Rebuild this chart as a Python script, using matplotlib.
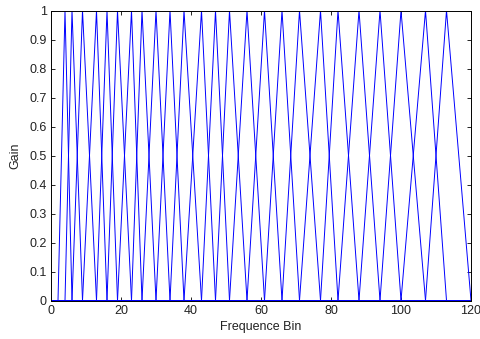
import numpy as np
import matplotlib
matplotlib.use("Agg")
import matplotlib.pyplot as plt

plt.rcParams['font.family'] = ['Liberation Sans', 'DejaVu Sans']

# triangle filter edge points (bin index): filter k rises at edges[k],
# peaks at edges[k+1] and falls back to zero at edges[k+2]
edges = [2, 4, 6, 9, 13, 16, 19, 23, 26, 30, 34, 38, 43, 47, 51, 56,
         61, 66, 71, 77, 82, 88, 94, 100, 107, 113, 120]
n_bins = 120
x_ticks = [0, 20, 40, 60, 80, 100, 120]
y_ticks = [0, 0.1, 0.2, 0.3, 0.4, 0.5, 0.6, 0.7, 0.8, 0.9, 1]

fig = plt.figure(figsize=(4.81, 3.39), dpi=100)
ax = fig.add_axes([51 / 481, 1 - 300.5 / 339, 420 / 481, 290 / 339])

for k in range(len(edges) - 2):
    lo, mid, hi = edges[k], edges[k + 1], edges[k + 2]
    xs = [0, lo, mid, hi, n_bins]
    ys = [0, 0, 1, 0, 0]
    ax.plot(xs, ys, color='#0000ff', linewidth=0.7)

txt = '#222222'
ax.set_xlim(0, 120)
ax.set_ylim(0, 1)
ax.set_xticks(x_ticks)
ax.set_yticks(y_ticks)
ax.set_yticklabels(['0', '0.1', '0.2', '0.3', '0.4', '0.5', '0.6', '0.7', '0.8', '0.9', '1'])
ax.tick_params(direction='in', top=True, right=True, labelsize=9, length=3, width=0.6,
               pad=3, labelcolor=txt)
for s in ax.spines.values():
    s.set_linewidth(0.7)
ax.set_xlabel('Frequence Bin', fontsize=9, labelpad=3, color=txt)
ax.set_ylabel('Gain', fontsize=9, labelpad=6, color=txt)

fig.savefig('out.png', dpi=100)
